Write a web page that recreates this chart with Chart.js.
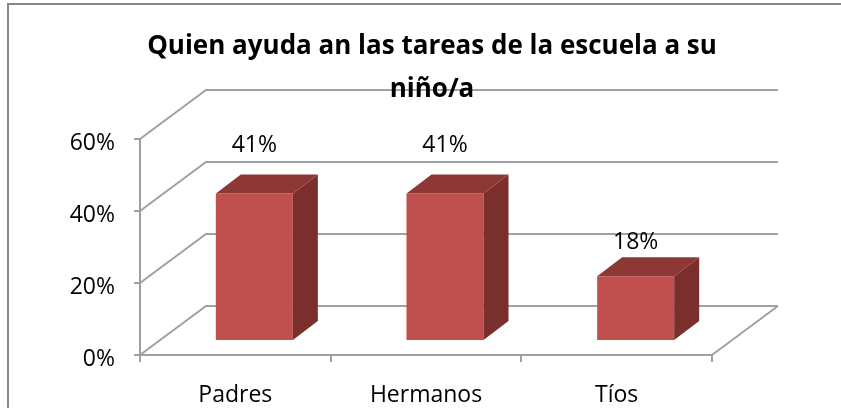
<!DOCTYPE html>
<html lang="es">
<head>
<meta charset="UTF-8">
<title>Quien ayuda</title>
<style>
  html, body { margin: 0; padding: 0; background: #fff; }
  canvas { display: block; }
</style>
</head>
<body>
<canvas id="myChart" width="841" height="408"></canvas>
<script src="https://cdn.jsdelivr.net/npm/chart.js@4.4.0/dist/chart.umd.min.js"></script>
<script>
const categories = ['Padres', 'Hermanos', 'Tíos'];
const values = [0.41, 0.41, 0.18];
const yTicks = [0, 0.2, 0.4, 0.6];
const titleLines = ['Quien ayuda an las tareas de la escuela a su', 'niño/a'];

const FONT = '"Open Sans", "Noto Sans", sans-serif';
const GRID = '#a0a0a0';
// offsets used to fake the excel 3d look
const WALL_DX = 66, WALL_DY = -49;   // back wall
const BAR_DX = 19, BAR_DY = -14;     // bars stand a bit back on the floor
const CAP_DX = 25, CAP_DY = -19;     // depth of each bar

const fake3d = {
  id: 'fake3d',
  beforeDraw(chart) {
    const ctx = chart.ctx;
    ctx.save();
    ctx.strokeStyle = '#878787';
    ctx.lineWidth = 2;
    ctx.beginPath();
    ctx.moveTo(8, chart.height);
    ctx.lineTo(8, 4);
    ctx.lineTo(chart.width, 4);
    ctx.stroke();
    ctx.restore();
  },
  beforeDatasetsDraw(chart) {
    const {ctx, chartArea: a, scales: {y}} = chart;
    ctx.save();
    ctx.strokeStyle = GRID;
    ctx.lineWidth = 2;
    ctx.beginPath();
    yTicks.forEach(t => {
      const py = y.getPixelForValue(t);
      ctx.moveTo(a.left, py);
      ctx.lineTo(a.left + WALL_DX, py + WALL_DY);
      ctx.lineTo(a.right + WALL_DX, py + WALL_DY);
    });
    ctx.moveTo(a.right, a.bottom);
    ctx.lineTo(a.right + WALL_DX, a.bottom + WALL_DY);
    ctx.stroke();
    ctx.restore();
    // bars get drawn shifted, restored in afterDatasetsDraw
    ctx.save();
    ctx.translate(BAR_DX, BAR_DY);
  },
  afterDatasetsDraw(chart) {
    const ctx = chart.ctx;
    const bars = chart.getDatasetMeta(0).data;
    bars.forEach(bar => {
      const l = bar.x - bar.width / 2, r = bar.x + bar.width / 2;
      ctx.fillStyle = '#8e3836';
      ctx.beginPath();
      ctx.moveTo(l, bar.y);
      ctx.lineTo(l + CAP_DX, bar.y + CAP_DY);
      ctx.lineTo(r + CAP_DX, bar.y + CAP_DY);
      ctx.lineTo(r, bar.y);
      ctx.closePath();
      ctx.fill();
      ctx.fillStyle = '#7b2f2d';
      ctx.beginPath();
      ctx.moveTo(r, bar.y);
      ctx.lineTo(r + CAP_DX, bar.y + CAP_DY);
      ctx.lineTo(r + CAP_DX, bar.base + CAP_DY);
      ctx.lineTo(r, bar.base);
      ctx.closePath();
      ctx.fill();
    });
    ctx.restore();

    // value labels (excel puts them a little higher on tall bars)
    const y = chart.scales.y;
    ctx.save();
    ctx.font = '23px ' + FONT;
    ctx.fillStyle = '#000';
    ctx.textAlign = 'center';
    ctx.textBaseline = 'middle';
    bars.forEach((bar, i) => {
      const v = values[i];
      ctx.fillText(Math.round(v * 100) + '%', bar.x + BAR_DX, y.getPixelForValue(v * 1.17) - 37);
    });
    ctx.restore();
  },
  afterDraw(chart) {
    const ctx = chart.ctx;
    ctx.save();
    ctx.font = 'bold 26px ' + FONT;
    ctx.fillStyle = '#000';
    ctx.textAlign = 'center';
    ctx.textBaseline = 'alphabetic';
    ctx.fillText(titleLines[0], 432, 54);
    ctx.fillText(titleLines[1], 432, 97);
    ctx.restore();
  }
};

const ctx = document.getElementById('myChart').getContext('2d');
const myChart = new Chart(ctx, {
  type: 'bar',
  data: {
    labels: categories,
    datasets: [{
      data: values,
      backgroundColor: '#c0504d',
      barPercentage: 0.404,
      categoryPercentage: 1,
      clip: false
    }]
  },
  options: {
    responsive: false,
    animation: false,
    layout: { padding: { top: 139, right: 129, left: 0, bottom: 0 } },
    plugins: { legend: { display: false }, tooltip: { enabled: false }, title: { display: false } },
    scales: {
      y: {
        min: 0,
        max: 0.6,
        afterFit: s => { s.width = 140; },
        afterBuildTicks: s => { s.ticks = yTicks.map(v => ({ value: v })); },
        ticks: {
          callback: v => Math.round(v * 100) + '%',
          font: { family: FONT, size: 23 },
          color: '#000',
          padding: 19,
          labelOffset: 4
        },
        grid: { drawOnChartArea: false, tickLength: 6, color: GRID, lineWidth: 2 },
        border: { color: GRID, width: 2 }
      },
      x: {
        afterFit: s => { s.height = 53; },
        ticks: {
          font: { family: FONT, size: 23 },
          color: '#000',
          padding: 20
        },
        grid: { offset: true, drawOnChartArea: false, tickLength: 7, color: GRID, lineWidth: 2 },
        border: { color: GRID, width: 2 }
      }
    }
  },
  plugins: [fake3d]
});
</script>
</body>
</html>
